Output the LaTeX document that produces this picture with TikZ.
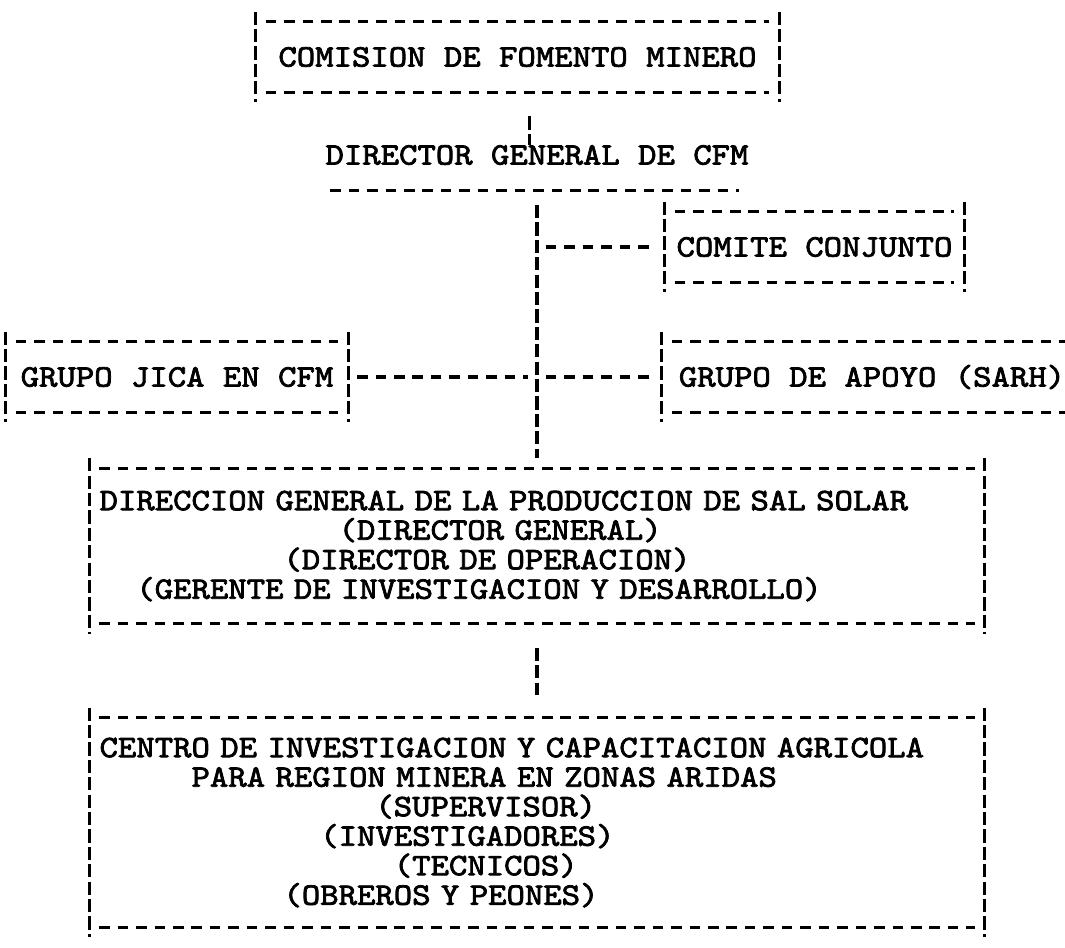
\documentclass[tikz,border=0pt]{standalone}
\usepackage{fontspec}
% 打字机字体（Latin Modern Mono，加宽加粗）
\newfontfamily\twfont{lmmono10-regular.otf}[FakeStretch=1.12, FakeBold=2.4]
\newcommand{\tw}{\fontsize{17.8pt}{16.8pt}\selectfont\twfont}
% 行首空格（按字符宽度）
\newcommand{\blank}[1]{\hspace*{#1\fontcharwd\font`M}}

\begin{document}
\begin{tikzpicture}[x=0.02cm, y=-0.02cm,
    % 水平虚线（打字机的 "-"）
    hside/.style={line width=1.8pt, dash pattern=on 6pt off 4.5pt},
    % 竖直虚线（打字机的 "¦"）
    vside/.style={line width=1.8pt, dash pattern=on 7.5pt off 2.4pt},
    % 单行方框
    tbox/.style={inner sep=0pt, font=\tw, minimum height=1.8cm},
    % 多行方框（左对齐）
    mbox/.style={inner xsep=0.2cm, inner ysep=0pt, font=\tw,
        text width=17.5cm, align=left}
]
    \useasboundingbox (0,0) rectangle (1065,947);

    % 1. 竖向主线位置
    \def\spineX{537}
    \coordinate (spine) at (\spineX,205);

    % 2. 各个方框
    \node[tbox, minimum width=10.46cm] (cfm) at (517.5,57) {COMISION DE FOMENTO MINERO};
    \node[inner sep=0pt, font=\tw] (dir) at (\spineX,155) {DIRECTOR GENERAL DE CFM};
    \node[tbox, minimum width=5.98cm] (comite) at (814.5,247) {COMITE CONJUNTO};
    \node[tbox, minimum width=6.84cm] (jica) at (177,377) {GRUPO JICA EN CFM};
    \node[tbox, minimum width=8.4cm] (apoyo) at (872,377) {GRUPO DE APOYO (SARH)};
    \node[mbox, minimum height=3.5cm] (sal) at (\spineX,546) {%
        DIRECCION GENERAL DE LA PRODUCCION DE SAL SOLAR\\
        \blank{13}(DIRECTOR GENERAL)\\
        \blank{10}(DIRECTOR DE OPERACION)\\
        \blank{2}(GERENTE DE INVESTIGACION Y DESARROLLO)};
    \node[mbox, minimum height=4.58cm] (centro) at (\spineX,822.5) {%
        CENTRO DE INVESTIGACION Y CAPACITACION AGRICOLA\\
        \blank{5}PARA REGION MINERA EN ZONAS ARIDAS\\
        \blank{15}(SUPERVISOR)\\
        \blank{12}(INVESTIGADORES)\\
        \blank{16}(TECNICOS)\\
        \blank{10}(OBREROS Y PEONES)};

    % 3. 方框边线（竖线在外，虚线在内）
    \foreach \b in {cfm, comite, jica, sal, centro} {
        \draw[vside] (\b.north west) -- (\b.south west);
        \draw[vside] (\b.north east) -- (\b.south east);
        \draw[hside] ([shift={(10,10)}]\b.north west) -- ([shift={(-10,10)}]\b.north east);
        \draw[hside] ([shift={(10,-10)}]\b.south west) -- ([shift={(-10,-10)}]\b.south east);
    }
    % 右侧开口的方框
    \draw[vside] (apoyo.north west) -- (apoyo.south west);
    \draw[hside] ([shift={(10,10)}]apoyo.north west) -- ([shift={(0,10)}]apoyo.north east);
    \draw[hside] ([shift={(10,-10)}]apoyo.south west) -- ([shift={(0,-10)}]apoyo.south east);

    % 局长下划线
    \draw[hside] ([shift={(5,25)}]dir.south west) -- ([shift={(-10,25)}]dir.south east);

    % 4. 连线
    \draw[vside, shorten <=8pt] ([xshift=7pt]cfm.south) -- ([xshift=7pt]cfm.south |- dir.north);
    \draw[vside] (spine) -- (spine |- sal.north);
    \draw[hside, shorten <=5pt, shorten >=5pt] (spine |- comite.west) -- (comite.west);
    \draw[hside, shorten <=5pt, shorten >=5pt] (jica.east) -- (spine |- jica.east);
    \draw[hside, shorten <=5pt, shorten >=5pt] (spine |- apoyo.west) -- (apoyo.west);
    \draw[vside, shorten <=8pt, shorten >=7pt] (spine |- sal.south) -- (spine |- centro.north);

\end{tikzpicture}
\end{document}
